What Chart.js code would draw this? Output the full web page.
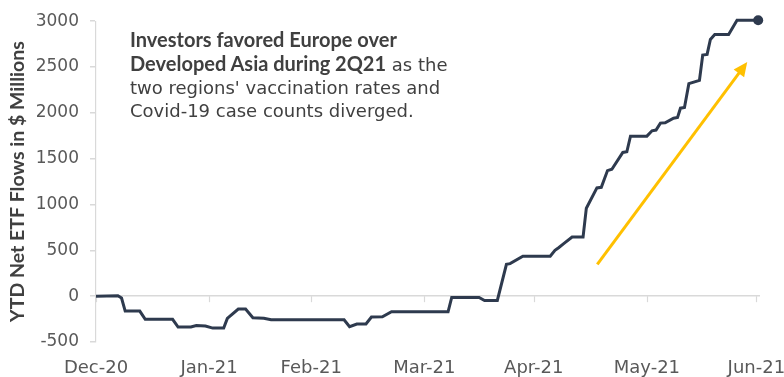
<!DOCTYPE html>
<html><head><meta charset="utf-8">
<script src="https://cdn.jsdelivr.net/npm/chart.js@4.4.0/dist/chart.umd.min.js"></script>
<style>
html,body{margin:0;padding:0;background:#fff;}
#wrap{position:relative;width:784px;height:377px;overflow:hidden;}
#note{position:absolute;left:130px;top:28px;font-family:"DejaVu Sans",sans-serif;font-size:18px;line-height:23px;color:#404040;white-space:nowrap;}
#note b{font-family:Lato,sans-serif;font-weight:700;font-size:20px;}
</style></head><body>
<div id="wrap"><canvas id="c" width="784" height="377"></canvas>
<div id="note"><b>Investors favored Europe over</b><br><b>Developed Asia during 2Q21</b> as the<br>two regions' vaccination rates and<br>Covid-19 case counts diverged.</div></div>
<script>
// days since 31-Dec-2020
const days = [0, 6, 7, 8, 12, 13.5, 21, 22.5, 26, 27.5, 30, 32, 35, 36, 39, 41, 43, 46, 48, 68, 69.5, 71.5, 74, 75.5, 78.5, 81, 96.5, 97.5, 105, 106.5, 110, 112.5, 113.5, 117, 124.5, 125.8, 126.8, 128.2, 130.5, 133.5, 134.4, 137.3, 138.5, 140.2, 141.4, 144.4, 145.5, 146.5, 151, 152.4, 153.5, 154.7, 156, 158.3, 159.4, 160.2, 161.3, 162.5, 165.4, 166.3, 167.5, 168.4, 169.6, 173.4, 175.7, 181.5];
const flows = [0, 5, -20, -163, -163, -253, -253, -337, -337, -320, -325, -348, -348, -243, -141, -141, -236, -240, -257, -257, -333, -304, -304, -228, -225, -170, -170, -14, -14, -47, -47, 348, 355, 435, 435, 500, 529, 573, 645, 645, 960, 1181, 1188, 1370, 1385, 1568, 1576, 1746, 1746, 1804, 1812, 1888, 1891, 1942, 1949, 2051, 2058, 2319, 2355, 2630, 2638, 2801, 2855, 2855, 3011, 3011];
const monthTickDays = [0, 31, 59, 90, 120, 151, 181];
const monthLabels = ['Dec-20', 'Jan-21', 'Feb-21', 'Mar-21', 'Apr-21', 'May-21', 'Jun-21'];
const yTickValues = [-500, 0, 500, 1000, 1500, 2000, 2500, 3000];
const arrowFrom = [137.4, 348];
const arrowTo = [178.5, 2554];

const FONT = '"DejaVu Sans"';
const lineColor = '#2e3a4e';
const gridGray = '#d9d9d9';

const monthTicksPlugin = {
  id: 'monthTicks',
  beforeDatasetsDraw(chart) {
    const {ctx, scales: {x, y}} = chart;
    const y0 = y.getPixelForValue(0);
    ctx.save();
    ctx.strokeStyle = gridGray;
    ctx.lineWidth = 1.2;
    monthTickDays.forEach(d => {
      const px = Math.round(x.getPixelForValue(d)) + 0.5;
      ctx.beginPath();
      ctx.moveTo(px, y0);
      ctx.lineTo(px, y0 + 6);
      ctx.stroke();
    });
    ctx.restore();
  }
};

const arrowPlugin = {
  id: 'arrow',
  afterDatasetsDraw(chart) {
    const {ctx, scales: {x, y}} = chart;
    const x1 = x.getPixelForValue(arrowFrom[0]), y1 = y.getPixelForValue(arrowFrom[1]);
    const x2 = x.getPixelForValue(arrowTo[0]), y2 = y.getPixelForValue(arrowTo[1]);
    const ang = Math.atan2(y2 - y1, x2 - x1);
    const hl = 14, hw = 6.5;
    const bx = x2 - hl * Math.cos(ang), by = y2 - hl * Math.sin(ang);
    ctx.save();
    ctx.strokeStyle = '#FFC000';
    ctx.fillStyle = '#FFC000';
    ctx.lineWidth = 3;
    ctx.beginPath();
    ctx.moveTo(x1, y1);
    ctx.lineTo(bx + 2 * Math.cos(ang), by + 2 * Math.sin(ang));
    ctx.stroke();
    ctx.beginPath();
    ctx.moveTo(x2, y2);
    ctx.lineTo(bx - hw * Math.sin(ang), by + hw * Math.cos(ang));
    ctx.lineTo(bx + hw * Math.sin(ang), by - hw * Math.cos(ang));
    ctx.closePath();
    ctx.fill();
    ctx.restore();
  }
};

new Chart(document.getElementById('c'), {
  type: 'line',
  data: {
    datasets: [{
      data: days.map((d, i) => ({x: d, y: flows[i]})),
      borderColor: lineColor,
      backgroundColor: lineColor,
      borderWidth: 3,
      tension: 0,
      clip: false,
      pointRadius: ctx => ctx.dataIndex === days.length - 1 ? 5 : 0,
      pointBackgroundColor: lineColor,
      pointBorderColor: lineColor,
      pointBorderWidth: 0
    }]
  },
  options: {
    responsive: false,
    animation: false,
    layout: {padding: {top: 20, right: 24, bottom: 0, left: 0}},
    plugins: {legend: {display: false}, tooltip: {enabled: false}},
    scales: {
      x: {
        type: 'linear',
        min: 0,
        max: 182,
        grid: {display: false, drawTicks: false},
        border: {display: false},
        afterBuildTicks: s => { s.ticks = monthTickDays.map(v => ({value: v})); },
        afterFit: s => { s.height = 35; s.paddingRight = 0; s.paddingLeft = 0; },
        ticks: {
          autoSkip: false,
          maxRotation: 0,
          padding: 16,
          color: '#595959',
          font: {family: FONT, size: 18},
          callback: v => monthLabels[monthTickDays.indexOf(v)]
        }
      },
      y: {
        min: -500,
        max: 3000,
        afterBuildTicks: s => { s.ticks = yTickValues.map(v => ({value: v})); },
        afterFit: s => { s.width = 96; },
        border: {display: true, color: gridGray, width: 1.2},
        grid: {
          drawOnChartArea: true,
          color: ctx => (ctx.tick && ctx.tick.value === 0) ? gridGray : 'rgba(0,0,0,0)',
          tickColor: gridGray,
          tickLength: 6,
          lineWidth: 1.5
        },
        ticks: {
          padding: 11,
          color: '#595959',
          font: {family: FONT, size: 17},
          callback: v => String(v)
        },
        title: {
          display: true,
          text: 'YTD Net ETF Flows in $ Millions',
          color: '#404040',
          font: {family: 'Lato', size: 19.5, weight: 'bold'},
          padding: {top: 6, bottom: 0}
        }
      }
    }
  },
  plugins: [monthTicksPlugin, arrowPlugin]
});
</script>
</body></html>
